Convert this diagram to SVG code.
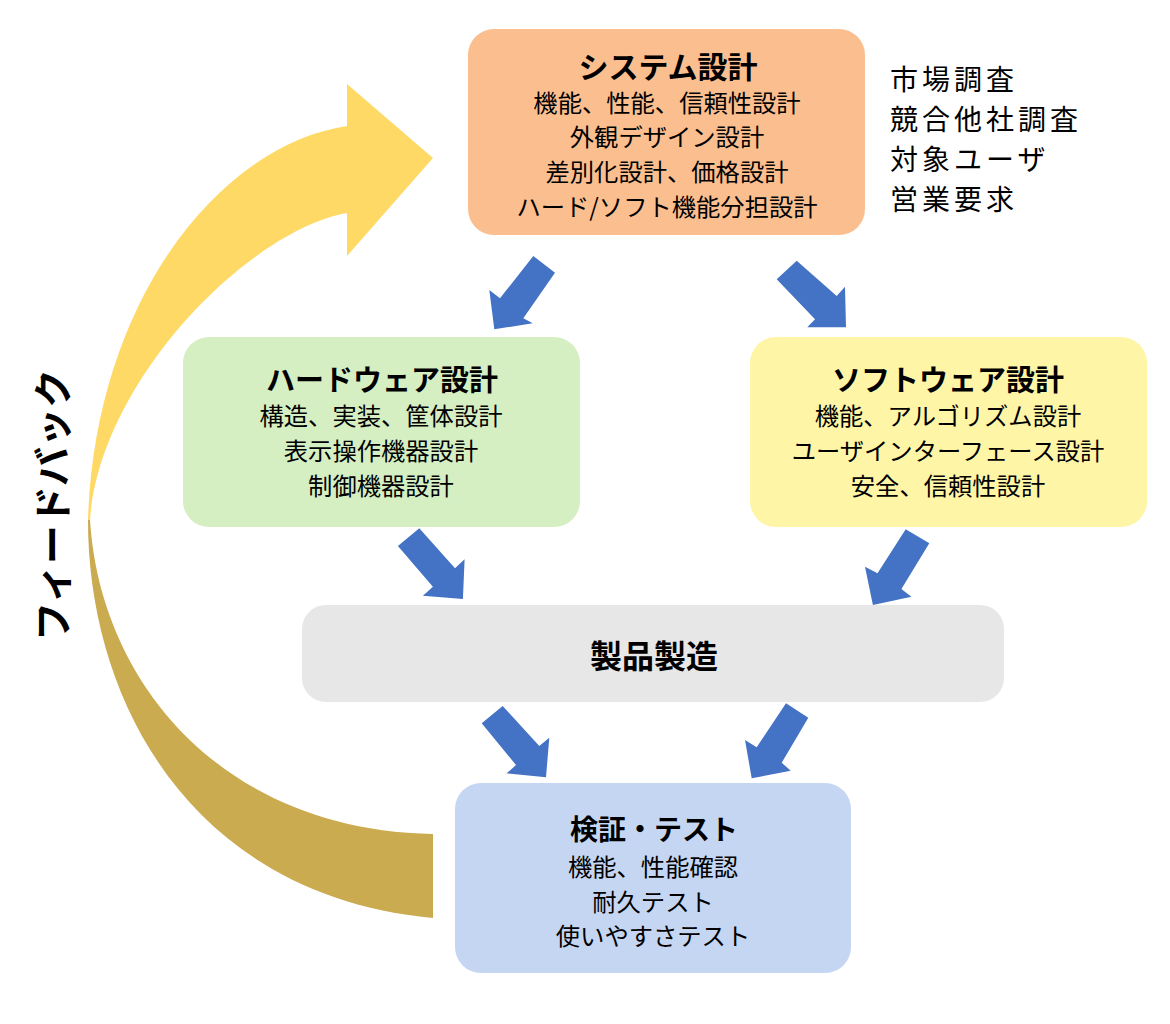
<svg xmlns="http://www.w3.org/2000/svg" width="1170" height="1024" viewBox="0 0 1170 1024">
<style>
text{font-family:"Noto Sans CJK JP","Noto Sans",sans-serif;fill:#000;text-anchor:middle;dominant-baseline:central}
.t{font-size:29px;font-weight:700}
.b{font-size:24.3px}
.r{font-size:28px;letter-spacing:4px;text-anchor:start}
.fb{font-size:39px;font-weight:700}
.ar{fill:#4472C4}
</style>
<rect width="1170" height="1024" fill="#fff"/>
<g id="feedback">
<path d="M88,520 C88,700 190,895 433,918 L433,834 C220,830 100,680 90,520 Z" fill="#CBAB4F"/>
<path d="M347,126 L347,84 L433,158 L347,256 L347,213 C250,230 100,380 90,520 L88,520 C95,300 220,145 347,126 Z" fill="#FFD966"/>
<text class="fb" transform="translate(50,505) rotate(-90)">フィードバック</text>
</g>
<g id="connectors">
<polygon class="ar" points="533.3,256 555,272.7 523.3,318.3 532.7,323.3 494.3,329.3 489.3,290 500,298.3"/>
<polygon class="ar" points="796.7,260.7 836.7,296 845,286.7 846,327.3 807.3,327.3 815,319.3 776.7,279.3"/>
<polygon class="ar" points="419.3,528.3 455,568.3 464.6,559.3 462.9,599 422.9,595.7 432.9,586.7 397.9,546"/>
<polygon class="ar" points="905.7,529.3 929.3,543.3 901.4,589 911.4,596.7 872.9,605 865,566.7 877.5,573.3"/>
<polygon class="ar" points="502.7,706 539.3,746 549.3,737.7 546,777.3 506.7,773.3 516,765 481.7,723.3"/>
<polygon class="ar" points="786,703.3 808.3,717.7 781.7,762.7 790.7,770.7 751.7,778.3 745,740 756.7,747.3"/>
</g>
<g id="system">
<rect x="468" y="29" width="397" height="206" rx="26" fill="#FBBE8F"/>
<text class="t" x="668" y="65" style="font-size:30px">システム設計</text>
<text class="b" x="667" y="101">機能、性能、信頼性設計</text>
<text class="b" x="667" y="135">外観デザイン設計</text>
<text class="b" x="667" y="170">差別化設計、価格設計</text>
<text class="b" x="667" y="205">ハード/ソフト機能分担設計</text>
</g>
<g id="inputs">
<text class="r" x="890" y="78">市場調査</text>
<text class="r" x="890" y="118">競合他社調査</text>
<text class="r" x="890" y="158">対象ユーザ</text>
<text class="r" x="890" y="198">営業要求</text>
</g>
<g id="hardware">
<rect x="183" y="337" width="397" height="190" rx="26" fill="#D5EFC3"/>
<text class="t" x="382" y="378">ハードウェア設計</text>
<text class="b" x="381" y="414">構造、実装、筐体設計</text>
<text class="b" x="381" y="449">表示操作機器設計</text>
<text class="b" x="381" y="484">制御機器設計</text>
</g>
<g id="software">
<rect x="750" y="337" width="397" height="190" rx="26" fill="#FFF5A6"/>
<text class="t" x="948" y="378">ソフトウェア設計</text>
<text class="b" x="948" y="414">機能、アルゴリズム設計</text>
<text class="b" x="948" y="449">ユーザインターフェース設計</text>
<text class="b" x="948" y="484">安全、信頼性設計</text>
</g>
<g id="manufacturing">
<rect x="302" y="605" width="702" height="97" rx="24" fill="#E7E7E7"/>
<text class="t" x="654" y="654" style="font-size:32px">製品製造</text>
</g>
<g id="test">
<rect x="455" y="783" width="396" height="190" rx="26" fill="#C5D6F3"/>
<text class="t" x="654" y="828" style="font-size:28px">検証・テスト</text>
<text class="b" x="653" y="865">機能、性能確認</text>
<text class="b" x="653" y="900">耐久テスト</text>
<text class="b" x="653" y="934">使いやすさテスト</text>
</g>
</svg>
